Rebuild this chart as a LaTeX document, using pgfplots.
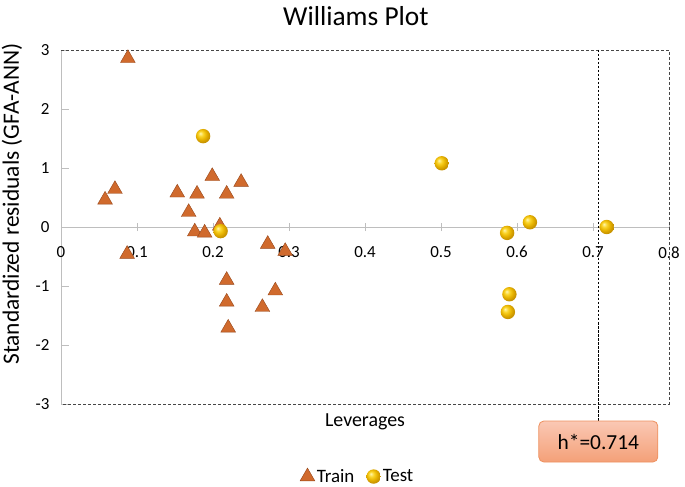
\documentclass[border=0pt]{standalone}
\usepackage{fontspec}
\setmainfont{Carlito}
\usepackage{pgfplots}
\pgfplotsset{compat=1.18}
\definecolor{trainfill}{RGB}{208,106,45}
\definecolor{traindraw}{RGB}{150,70,25}
\definecolor{axgray}{RGB}{190,190,190}
\definecolor{dashgray}{RGB}{70,70,70}
\definecolor{boxtop}{RGB}{250,200,180}
\definecolor{boxbot}{RGB}{244,160,120}
\definecolor{boxedge}{RGB}{238,145,95}
\definecolor{goldA}{RGB}{255,246,175}
\definecolor{goldB}{RGB}{250,212,40}
\definecolor{goldC}{RGB}{230,178,0}
\definecolor{goldD}{RGB}{205,152,0}
\definecolor{goldE}{RGB}{150,110,0}
\pgfdeclareradialshading{goldball}{\pgfpoint{-10bp}{10bp}}{%
  color(0bp)=(goldA); color(9bp)=(goldB); color(18bp)=(goldC);
  color(25bp)=(goldD); color(50bp)=(goldE)}
\pgfdeclareplotmark{goldball}{%
  \pgfpathcircle{\pgfpointorigin}{\pgfplotmarksize}%
  \pgfshadepath{goldball}{0}%
  \pgfusepath{discard}}
\pgfplotstableread{
x y
0.058 0.46
0.071 0.64
0.088 2.86
0.087 -0.46
0.153 0.58
0.179 0.56
0.199 0.86
0.218 0.56
0.237 0.76
0.168 0.25
0.176 -0.08
0.189 -0.10
0.209 0.02
0.272 -0.29
0.295 -0.41
0.218 -0.90
0.218 -1.27
0.220 -1.71
0.282 -1.08
0.265 -1.36
}\traindata
\pgfplotstableread{
x y
0.187 1.54
0.210 -0.07
0.501 1.08
0.617 0.08
0.587 -0.10
0.718 0.00
0.590 -1.14
0.588 -1.44
}\testdata
\begin{document}
\begin{tikzpicture}
\useasboundingbox (-61bp,-83bp) rectangle (624bp,404bp);
\begin{axis}[
  at={(0,0)}, anchor=south west,
  scale only axis, width=608bp, height=354bp,
  xmin=0, xmax=0.8, ymin=-3, ymax=3,
  axis x line=middle, axis y line=left,
  axis line style={-, axgray, line width=0.8bp},
  xtick={0,0.1,0.2,0.3,0.4,0.5,0.6,0.7,0.8},
  xticklabels={0,0.1,0.2,0.3,0.4,0.5,0.6,0.7,0.8},
  ytick={-3,-2,-1,0,1,2,3},
  yticklabels={-3,-2,-1,0,1,2,3},
  hide obscured x ticks=false,
  hide obscured y ticks=false,
  xtick align=center, ytick align=inside,
  major tick length=8bp,
  minor tick num=0,
  tick style={axgray, line width=0.8bp},
  ticklabel style={font=\fontsize{17}{19}\selectfont, black},
  /pgf/number format/assume math mode=true,
  yticklabel style={xshift=-8bp},
  xticklabel style={yshift=-12bp},
  clip=false,
  legend columns=2,
  legend style={at={(0.488,-0.205)}, anchor=center, draw=none, fill=none,
    font=\fontsize{19}{21}\selectfont,
    /tikz/every even column/.append style={column sep=10bp}},
  legend cell align=left,
]
\draw[dashgray, line width=0.9bp, dash pattern=on 3bp off 2bp]
  (axis cs:0,3) -- (axis cs:0.8,3) -- (axis cs:0.8,-3) -- (axis cs:0,-3);
\draw[black, line width=0.8bp, dash pattern=on 2.5bp off 1.5bp]
  (axis cs:0.707,3) -- (axis cs:0.707,-3.29);
\addplot[only marks, mark=triangle*, mark size=8.5bp,
  mark options={fill=trainfill, draw=traindraw, line width=0.4bp}]
  table[x=x,y=y]{\traindata};
\addlegendentry{Train}
\addplot[only marks, mark=goldball, mark size=7.2bp]
  table[x=x,y=y]{\testdata};
\addlegendentry{Test}
\node[font=\fontsize{27.5}{30}\selectfont] at (axis cs:0.388,3.576) {Williams Plot};
\node[rotate=90, font=\fontsize{23.5}{26}\selectfont] at (axis cs:-0.0645,0.39) {Standardized residuals (GFA-ANN)};
\node[font=\fontsize{20}{22}\selectfont] at (axis cs:0.4,-3.30) {Leverages};
\node[draw=boxedge, line width=0.8bp, rounded corners=5bp, top color=boxtop, bottom color=boxbot,
  minimum width=119bp, minimum height=41bp, font=\fontsize{21.5}{24}\selectfont]
  at (axis cs:0.707,-3.636) {h*=0.714};
\end{axis}
\end{tikzpicture}
\end{document}
